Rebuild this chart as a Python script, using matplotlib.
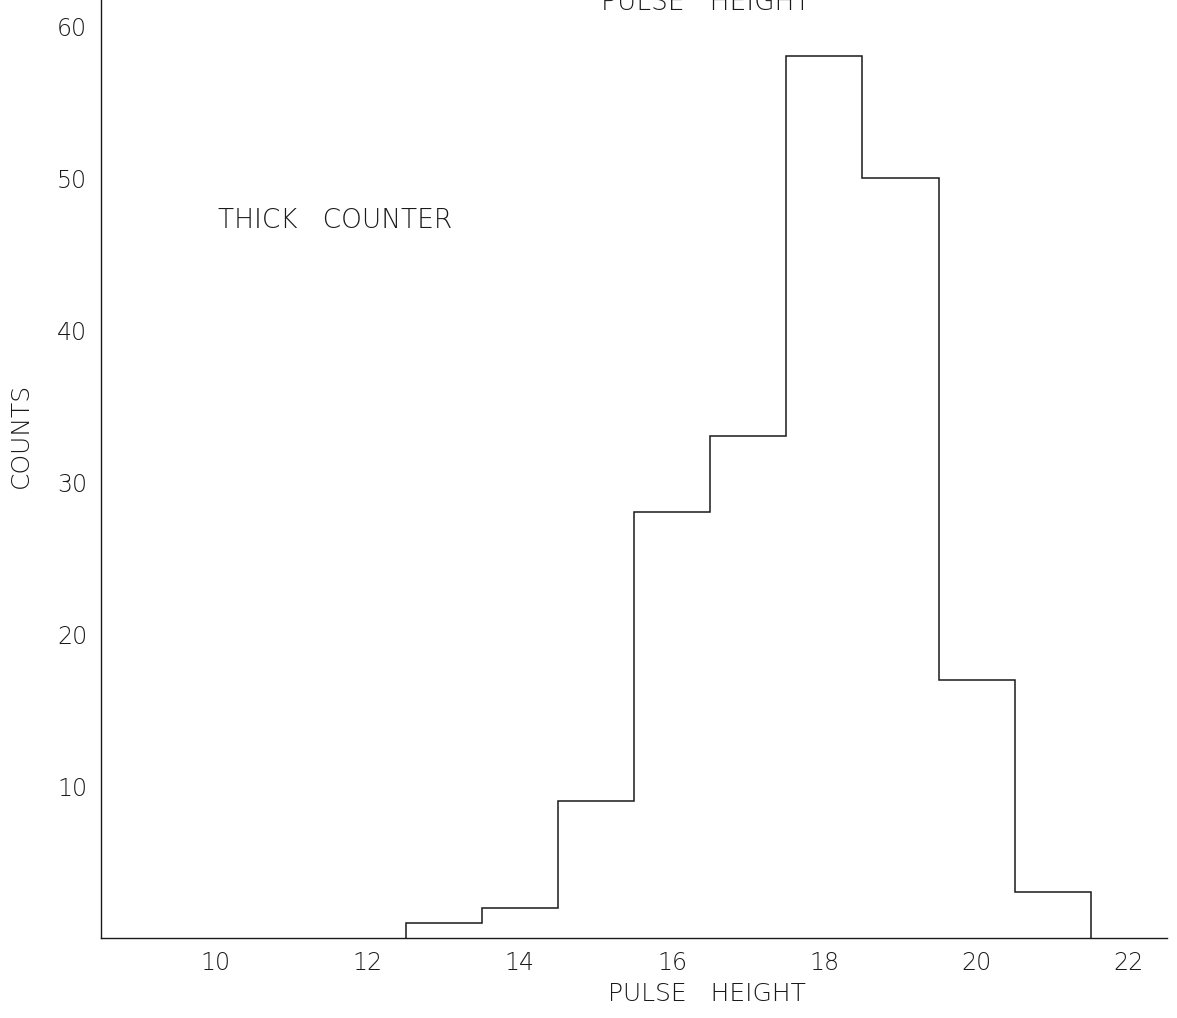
import matplotlib
matplotlib.use("Agg")
import matplotlib.pyplot as plt
import numpy as np

# pulse height spectrum, thick counter
bin_edges = [12.5, 13.5, 14.5, 15.5, 16.5, 17.5, 18.5, 19.5, 20.5, 21.5]
counts = [1, 2, 9, 28, 33, 58, 50, 17, 3]

x_ticks = [10, 12, 14, 16, 18, 20, 22]
y_ticks = [10, 20, 30, 40, 50, 60]

plt.rcParams.update({
    "font.family": "DejaVu Sans",
    "font.weight": "light",
    "axes.labelweight": "light",
})

ink = "#1a1a1a"

fig = plt.figure(figsize=(11.77, 10.18), dpi=100)
ax = fig.add_axes([101/1177, 80/1018, 1066/1177, 938/1018])

ax.stairs(counts, bin_edges, baseline=0, color=ink, lw=1.1)

ax.set_xlim(8.5, 22.5)
ax.set_ylim(0, 938/15.2)

ax.set_xticks(x_ticks)
ax.set_yticks(y_ticks)
ax.tick_params(length=0, labelsize=17, colors=ink)
ax.tick_params(axis="x", pad=9)
ax.tick_params(axis="y", pad=10)

for side in ["top", "right"]:
    ax.spines[side].set_visible(False)
for side in ["left", "bottom"]:
    ax.spines[side].set_linewidth(1.0)
    ax.spines[side].set_color(ink)

ax.set_xlabel("PULSE   HEIGHT", fontsize=18, color=ink, fontweight="light")
ax.xaxis.set_label_coords(0.568, -0.047)
ax.set_ylabel("COUNTS", fontsize=18, color=ink, fontweight="light")
ax.yaxis.set_label_coords(-0.064, 0.536)

ax.text(10.04, 46.7, "THICK   COUNTER", fontsize=19, color=ink,
        ha="left", va="baseline", fontweight="light")

# heading cut off at the top edge of the sheet
fig.text(706/1177, 1 - 10/1018, "PULSE   HEIGHT", fontsize=19, color=ink,
         ha="center", va="baseline", fontweight="light")

fig.savefig("out.png", dpi=100)
